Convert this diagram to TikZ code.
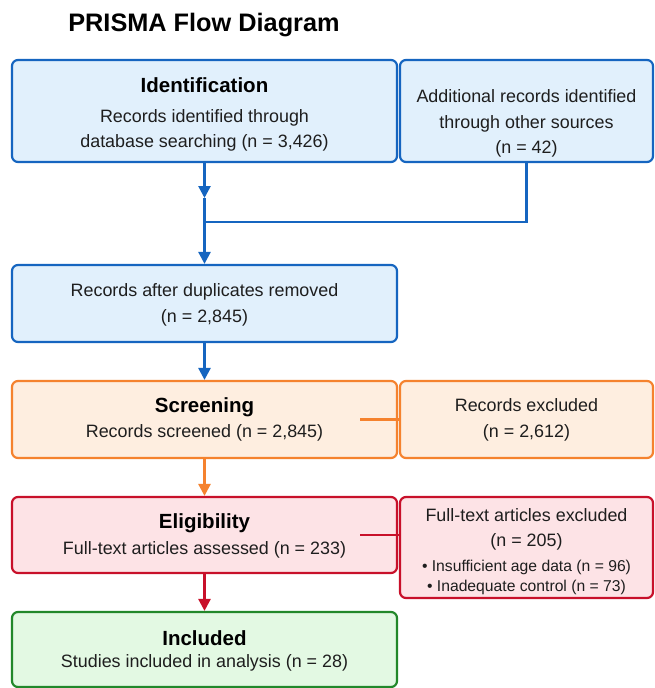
\documentclass[tikz,border=0pt]{standalone}
\usepackage{fontspec}
\setmainfont{Liberation Sans}
\usetikzlibrary{arrows.meta,calc}
\definecolor{bblue}{HTML}{1565C0}
\definecolor{fblue}{HTML}{E1F0FC}
\definecolor{borange}{HTML}{F5822E}
\definecolor{forange}{HTML}{FEEEE0}
\definecolor{bred}{HTML}{C8102A}
\definecolor{fred}{HTML}{FDE3E6}
\definecolor{bgreen}{HTML}{22882A}
\definecolor{fgreen}{HTML}{E3F9E3}
\definecolor{tcol}{HTML}{1E1E1E}
\tikzset{
  box/.style={draw, line width=2.2pt, rounded corners=6pt, inner sep=0pt},
  bluebox/.style={box, draw=bblue, fill=fblue},
  orangebox/.style={box, draw=borange, fill=forange},
  redbox/.style={box, draw=bred, fill=fred},
  greenbox/.style={box, draw=bgreen, fill=fgreen},
  head/.style={text=black, font=\fontsize{20.5}{24}\selectfont\bfseries, inner sep=0pt},
  body/.style={text=tcol, font=\fontsize{17.9}{25.5}\selectfont, align=center, inner sep=0pt},
  small/.style={text=tcol, font=\fontsize{15.7}{19.5}\selectfont, align=center, inner sep=0pt},
  conn/.style={line width=2.6pt},
  arr/.style={conn, -{Triangle[length=12pt,width=12pt]}},
}
\begin{document}
\begin{tikzpicture}[x=1pt,y=-1pt]
\useasboundingbox (0,0) rectangle (655,688);
\fill[white] (0,0) rectangle (655,688);
% title
\node[font=\fontsize{25.3}{30}\selectfont\bfseries, inner sep=0pt] (title) at (204,25) {PRISMA Flow Diagram};
% boxes
\node[bluebox, minimum width=385pt, minimum height=102pt] (id) at (204.5,111) {};
\node[bluebox, minimum width=253pt, minimum height=102pt] (add) at (526.5,111) {};
\node[bluebox, minimum width=385pt, minimum height=77pt] (dup) at (204.5,303.5) {};
\node[orangebox, minimum width=385pt, minimum height=77pt] (scr) at (204.5,419.5) {};
\node[orangebox, minimum width=253pt, minimum height=77pt] (exc) at (526.5,419.5) {};
\node[redbox, minimum width=385pt, minimum height=76pt] (eli) at (204.5,535) {};
\node[redbox, minimum width=253pt, minimum height=101pt] (ftx) at (526.5,547.5) {};
\node[greenbox, minimum width=385pt, minimum height=75pt] (inc) at (204.5,649.5) {};
% texts
\node[head] (idh) at (204.5,85) {Identification};
\node[body] (idt) at (204.5,130.5) {Records identified through\\database searching (n = 3,426)};
\node[body] (addt) at (526.5,123.5) {Additional records identified\\through other sources\\(n = 42)};
\node[body] (dupt) at (204.5,305) {Records after duplicates removed\\(n = 2,845)};
\node[head] (scrh) at (204.5,407) {Screening};
\node[body] (scrt) at (204.5,433) {Records screened (n = 2,845)};
\node[body] (exct) at (526.5,420) {Records excluded\\(n = 2,612)};
\node[head] (elih) at (204.5,523) {Eligibility};
\node[body] (elit) at (204.5,550) {Full-text articles assessed (n = 233)};
\node[body] (ftxt) at (526.5,529.5) {Full-text articles excluded\\(n = 205)};
\node[small] (ftxb) at (526.5,577.5) {\textbullet\ Insufficient age data (n = 96)\\\textbullet\ Inadequate control (n = 73)};
\node[head] (inch) at (204.5,638) {Included};
\node[body] (inct) at (204.5,663) {Studies included in analysis (n = 28)};
% connectors
\coordinate (m1) at (204.5,198);
\coordinate (j1) at (204.5,222);
\coordinate (s1) at (360,419.5);
\coordinate (s2) at (360,535);
\draw[arr, bblue] (id.south) -- (m1);
\draw[conn, bblue] (add.south) |- (j1);
\draw[arr, bblue] (m1) -- (dup.north);
\draw[arr, bblue] (dup.south) -- (scr.north);
\draw[conn, borange] (s1) -- (exc.west);
\draw[arr, borange] (scr.south) -- (eli.north);
\draw[conn, bred] (s2) -- (s2 -| ftx.west);
\draw[arr, bred] (eli.south) -- (inc.north);
\end{tikzpicture}
\end{document}
